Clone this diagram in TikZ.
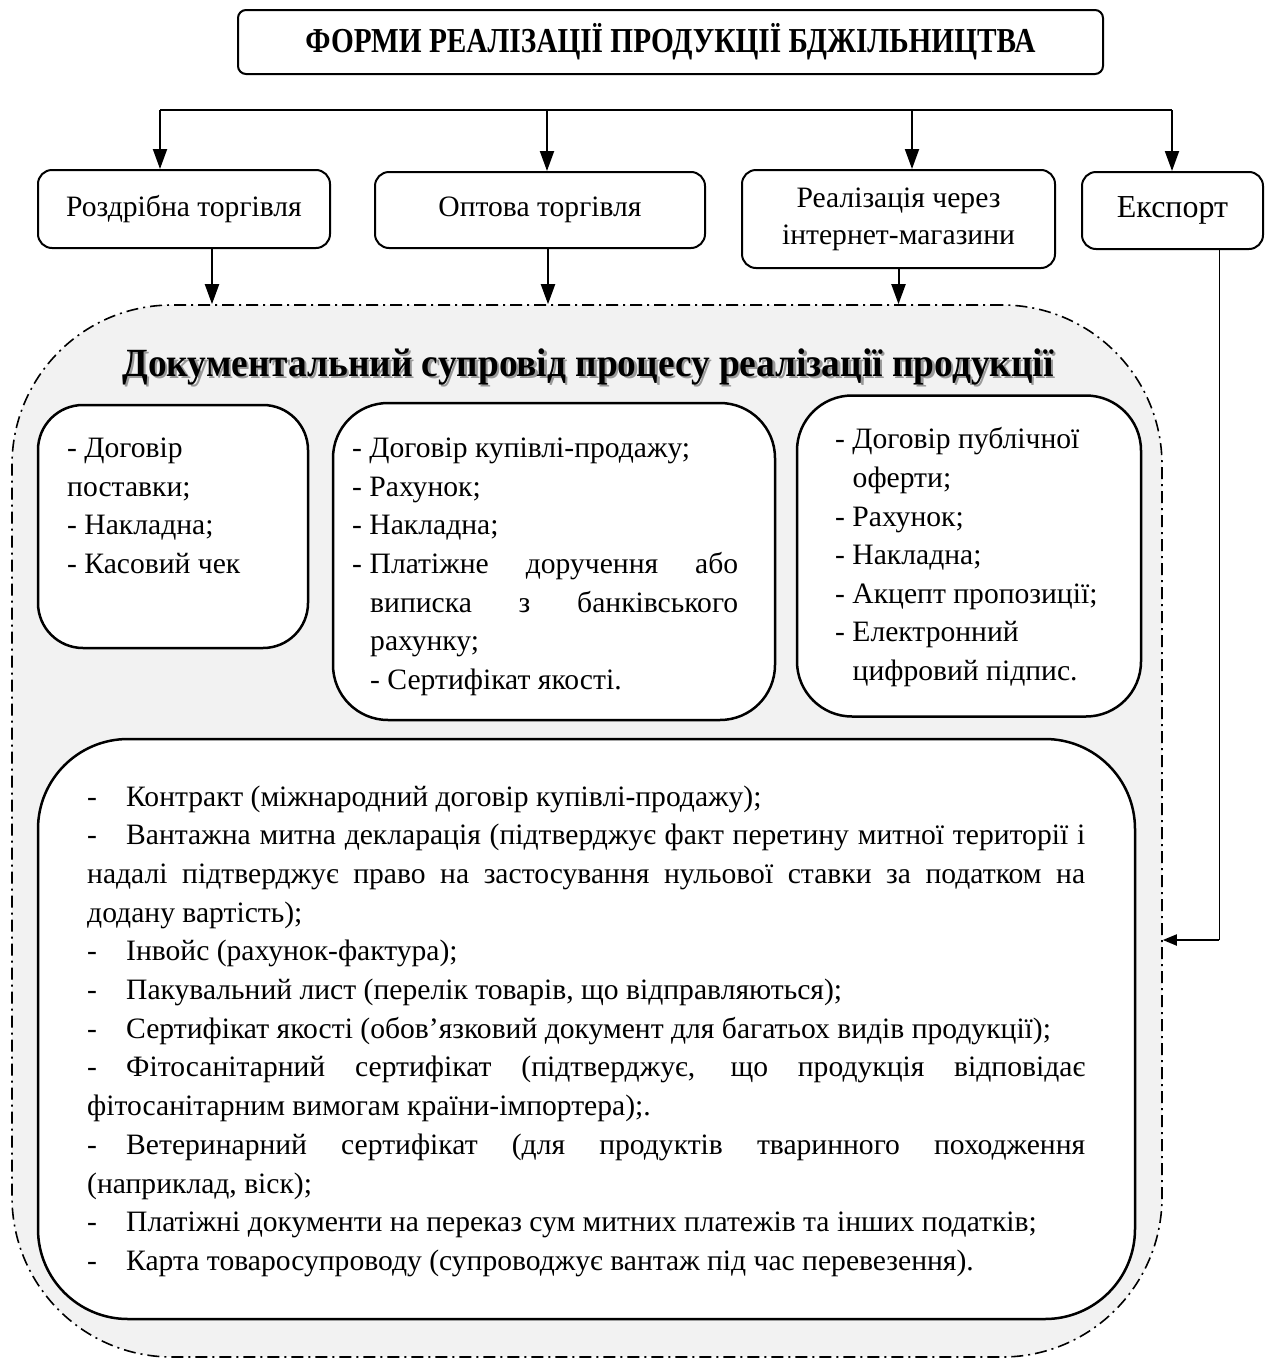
\documentclass[tikz,border=0pt]{standalone}
\usepackage{fontspec}
\usepackage{graphicx}
\setmainfont{Liberation Serif}
\usetikzlibrary{arrows.meta}
\newcommand\bodyf{\fontsize{29.6}{38}\selectfont}
\newcommand\dsh{\makebox[39pt][l]{-}}
\definecolor{contfill}{HTML}{F2F2F2}
\begin{document}
\begin{tikzpicture}[x=1pt,y=-1pt,
  topbox/.style={draw,line width=2pt,rounded corners=8pt,fill=white,inner sep=0pt},
  formbox/.style={draw,line width=2pt,rounded corners=14pt,fill=white,inner sep=0pt,font=\bodyf,align=center},
  docbox/.style={draw,line width=2.5pt,fill=white,inner sep=0pt},
  contbox/.style={draw,line width=1.6pt,fill=contfill,inner sep=0pt,rounded corners=160pt,
     dash pattern=on 12pt off 5pt on 2pt off 5pt},
  arr/.style={line width=2pt,-{Triangle[length=20pt,width=14pt]}},
  ln/.style={anchor=base west,inner sep=0pt,font=\bodyf},
]
\useasboundingbox (0,0) rectangle (1269,1360);
% title
\node[topbox,minimum width=865pt,minimum height=64pt] (title) at (670.5,42)
  {\resizebox{730pt}{\height}{\fontsize{35}{36}\selectfont\bfseries ФОРМИ РЕАЛІЗАЦІЇ ПРОДУКЦІЇ БДЖІЛЬНИЦТВА}};
% forms
\node[formbox,minimum width=292pt,minimum height=78pt] (r1) at (184,209) {Роздрібна торгівля};
\node[formbox,minimum width=330pt,minimum height=76pt] (r2) at (540,210) {Оптова торгівля};
\node[formbox,minimum width=313pt,minimum height=98pt] (r3) at (898.5,219) {Реалізація через\\[-1pt]інтернет-магазини};
\node[formbox,minimum width=181pt,minimum height=77pt,font=\fontsize{32}{36}\selectfont] (r4) at (1172.5,210.5) {Експорт};
% bus
\coordinate (b1) at (160,110);
\coordinate (b2) at (547,110);
\coordinate (b3) at (912,110);
\coordinate (b4) at (1172,110);
\draw[line width=1.5pt] (b1) -- (b4);
\draw[arr] (b1) -- (b1 |- r1.north);
\draw[arr] (b2) -- (b2 |- r2.north);
\draw[arr] (b3) -- (b3 |- r3.north);
\draw[arr] (b4) -- (b4 |- r4.north);
% container
\node[contbox,minimum width=1150pt,minimum height=1052pt] (cont) at (587,831) {};
\draw[arr] ([xshift=28pt]r1.south) -- ([xshift=28pt]r1.south |- cont.north);
\draw[arr] ([xshift=8pt]r2.south) -- ([xshift=8pt]r2.south |- cont.north);
\draw[arr] (r3.south) -- (r3.south |- cont.north);
\coordinate (eturn) at (1219,940);
\draw[line width=1pt] ([xshift=46.5pt]r4.south) -- (eturn);
\draw[line width=2pt,-{Triangle[length=14pt,width=11pt]}] (eturn) -- (eturn -| cont.east);
% heading
\node[inner sep=0pt,anchor=base,text=black!40] (hds) at (590.5,378)
  {\resizebox{931pt}{\height}{\fontsize{40}{44}\selectfont\bfseries Документальний супровід процесу реалізації продукції}};
\node[inner sep=0pt,anchor=base] (hd) at (588,376)
  {\resizebox{931pt}{\height}{\fontsize{40}{44}\selectfont\bfseries Документальний супровід процесу реалізації продукції}};
% doc boxes
\node[docbox,rounded corners=45pt,minimum width=270pt,minimum height=243pt] (A) at (173,526.5) {};
\node[docbox,rounded corners=55pt,minimum width=442pt,minimum height=317pt] (B) at (554,561.5) {};
\node[docbox,rounded corners=55pt,minimum width=344pt,minimum height=321pt] (C) at (969,556) {};
\node[docbox,rounded corners=90pt,minimum width=1097pt,minimum height=580pt] (D) at (586.5,1029) {};
% box A
\node[ln] (a1) at (67,457) {- Договір};
\node[ln] (a2) at (67,496) {поставки;};
\node[ln] (a3) at (67,534) {- Накладна;};
\node[ln] (a4) at (67,573) {- Касовий чек};
% box B
\node[ln] (bb1) at (352,457) {- Договір купівлі-продажу;};
\node[ln] (bb2) at (352,496) {- Рахунок;};
\node[ln] (bb3) at (352,534) {- Накладна;};
\node[ln] (bb4) at (352,573) {\makebox[386pt][s]{\makebox[17.5pt][l]{-}Платіжне доручення або}};
\node[ln] (bb5) at (370,612) {\makebox[368pt][s]{виписка з банківського}};
\node[ln] (bb6) at (370,650) {рахунку;};
\node[ln] (bb7) at (370,689) {- Сертифікат якості.};
% box C
\node[ln] (c1) at (835,448) {- Договір публічної};
\node[ln] (c2) at (852.5,487) {оферти;};
\node[ln] (c3) at (835,526) {- Рахунок;};
\node[ln] (c4) at (835,564) {- Накладна;};
\node[ln] (c5) at (835,603) {- Акцепт пропозиції;};
\node[ln] (c6) at (835,641) {- Електронний};
\node[ln] (c7) at (852.5,680) {цифровий підпис.};
% box D
\node[ln] (d1) at (87,806) {\dsh Контракт (міжнародний договір купівлі-продажу);};
\node[ln] (d2) at (87,844.7) {\makebox[998pt][s]{\dsh Вантажна митна декларація (підтверджує факт перетину митної території і}};
\node[ln] (d3) at (87,883.4) {\makebox[998pt][s]{надалі підтверджує право на застосування нульової ставки за податком на}};
\node[ln] (d4) at (87,922.1) {додану вартість);};
\node[ln] (d5) at (87,960.8) {\dsh Інвойс (рахунок-фактура);};
\node[ln] (d6) at (87,999.5) {\dsh Пакувальний лист (перелік товарів, що відправляються);};
\node[ln] (d7) at (87,1038.2) {\dsh Сертифікат якості (обов'язковий документ для багатьох видів продукції);};
\node[ln] (d8) at (87,1076.9) {\makebox[998pt][s]{\dsh Фітосанітарний сертифікат (підтверджує, що продукція відповідає}};
\node[ln] (d9) at (87,1115.6) {фітосанітарним вимогам країни-імпортера);.};
\node[ln] (d10) at (87,1154.3) {\makebox[998pt][s]{\dsh Ветеринарний сертифікат (для продуктів тваринного походження}};
\node[ln] (d11) at (87,1193) {(наприклад, віск);};
\node[ln] (d12) at (87,1231.7) {\dsh Платіжні документи на переказ сум митних платежів та інших податків;};
\node[ln] (d13) at (87,1270.4) {\dsh Карта товаросупроводу (супроводжує вантаж під час перевезення).};
\end{tikzpicture}
\end{document}
